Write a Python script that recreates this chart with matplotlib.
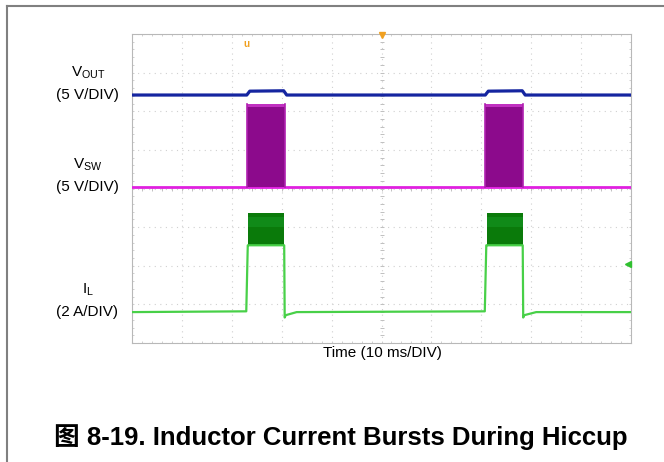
import matplotlib
matplotlib.use("Agg")
import matplotlib.pyplot as plt
import numpy as np

# ---- data (time in ms, levels in screen divisions, 0 = bottom, 8 = top) ----
burst_start = [23.0, 70.8]
burst_end = [30.6, 78.4]

vout_t = [0, 23.0, 23.6, 30.4, 31.0, 70.8, 71.4, 78.2, 78.8, 100]
vout_v = [6.42, 6.42, 6.52, 6.53, 6.42, 6.42, 6.52, 6.53, 6.42, 6.42]

vsw_base = 4.04
vsw_top = 6.19
vsw_fill_top = 6.12

il_t = [0, 22.9, 23.2, 23.3, 30.5, 30.6, 30.8, 33.0, 70.7, 71.0, 71.1, 78.3, 78.4, 78.6, 81.0, 100]
il_v = [0.80, 0.82, 2.53, 2.53, 2.53, 0.66, 0.72, 0.80, 0.82, 2.53, 2.53, 2.53, 0.66, 0.72, 0.80, 0.80]
il_band_low = 2.53
il_band_high = 3.36

labels = [("V$_{\\mathregular{OUT}}$", "(5 V/DIV)", 6.42),
          ("V$_{\\mathregular{SW}}$", "(5 V/DIV)", 4.04),
          ("I$_{\\mathregular{L}}$", "(2 A/DIV)", 0.80)]
xlabel = "Time (10 ms/DIV)"
title = "图 8-19. Inductor Current Bursts During Hiccup"

plt.rcParams['font.family'] = ['Liberation Sans', 'Noto Sans CJK SC', 'DejaVu Sans']

fig = plt.figure(figsize=(6.64, 4.62), dpi=100)
W, H = 664, 462
# outer frame
fig.add_artist(plt.Line2D([7/W, 7/W], [0, 1 - 6/H], color='#808080', lw=1.5, transform=fig.transFigure))
fig.add_artist(plt.Line2D([7/W, 1], [1 - 6/H, 1 - 6/H], color='#808080', lw=1.5, transform=fig.transFigure))

ax = fig.add_axes([132/W, (462-343)/H, 499/W, 309/H])
ax.set_xlim(0, 100)
ax.set_ylim(0, 8)
ax.set_xticks(np.arange(0, 101, 10))
ax.set_yticks(np.arange(0, 9, 1))
ax.tick_params(length=0, labelbottom=False, labelleft=False)
ax.grid(True, color='#d0d0d0', lw=0.8, ls=(0, (1, 4)))
for s in ax.spines.values():
    s.set_color('#b8b8b8')
    s.set_linewidth(0.8)

# centre crosshair minor ticks
mx = np.arange(0, 100.01, 2)
my = np.arange(0, 8.01, 0.2)
ax.plot(mx, np.full_like(mx, 4.0), ls='none', marker='|', ms=3, color='#c0c0c0', mew=0.7)
ax.plot(np.full_like(my, 50.0), my, ls='none', marker='_', ms=3, color='#c0c0c0', mew=0.7)
ax.plot(mx, np.full_like(mx, 8.0), ls='none', marker='|', ms=3, color='#d0d0d0', mew=0.7)
ax.plot(mx, np.full_like(mx, 0.0), ls='none', marker='|', ms=3, color='#d0d0d0', mew=0.7)
ax.plot(np.full_like(my, 0.0), my, ls='none', marker='_', ms=3, color='#d0d0d0', mew=0.7)
ax.plot(np.full_like(my, 100.0), my, ls='none', marker='_', ms=3, color='#d0d0d0', mew=0.7)

# VSW
ax.plot([0, 100], [vsw_base, vsw_base], color='#e020e0', lw=2.0, zorder=3)
for a, b in zip(burst_start, burst_end):
    ax.fill_between([a, b], vsw_base, vsw_fill_top, color='#8c0a8c', lw=0, zorder=3)
    ax.fill_between([a, b], vsw_fill_top, vsw_top, color='#c030c0', lw=0, zorder=3)
    ax.plot([a, a], [vsw_base, vsw_top], color='#b020b0', lw=1.2, zorder=3)
    ax.plot([b, b], [vsw_base, vsw_top], color='#b020b0', lw=1.2, zorder=3)

# VOUT
ax.plot(vout_t, vout_v, color='#1525a0', lw=2.3, zorder=4)

# IL
for a, b in zip(burst_start, burst_end):
    ax.fill_between([a + 0.3, b - 0.1], il_band_low, il_band_high, color='#0a7a0a', lw=0, zorder=3)
    ax.fill_between([a + 0.3, b - 0.1], il_band_high - 0.35, il_band_high - 0.1, color='#108a18', lw=0, zorder=3)
ax.plot(il_t, il_v, color='#48d048', lw=1.6, zorder=4)

# markers
ax.text(23.0, 7.75, 'u', color='#f0a020', fontsize=7, fontweight='bold', ha='center', va='center', zorder=5)
ax.plot([50], [7.97], marker='v', color='#f0a020', ms=4, clip_on=False, zorder=5)
ax.plot([99.4], [2.05], marker='<', color='#30c030', ms=4, clip_on=False, zorder=5)

# channel labels
for top, bot, lvl in labels:
    ax.annotate(top, xy=(0, lvl), xycoords=('axes fraction', 'data'), xytext=(-44, 22),
                textcoords='offset pixels', ha='center', va='center', fontsize=11)
    ax.annotate(bot, xy=(0, lvl), xycoords=('axes fraction', 'data'), xytext=(-45, 0),
                textcoords='offset pixels', ha='center', va='center', fontsize=11)

fig.text(382/W, 1 - 353/H, xlabel, ha='center', va='center', fontsize=11)
fig.text(341/W, 1 - 437/H, title, ha='center', va='center', fontsize=18.5, fontweight='bold')

fig.savefig('out.png', dpi=100)
